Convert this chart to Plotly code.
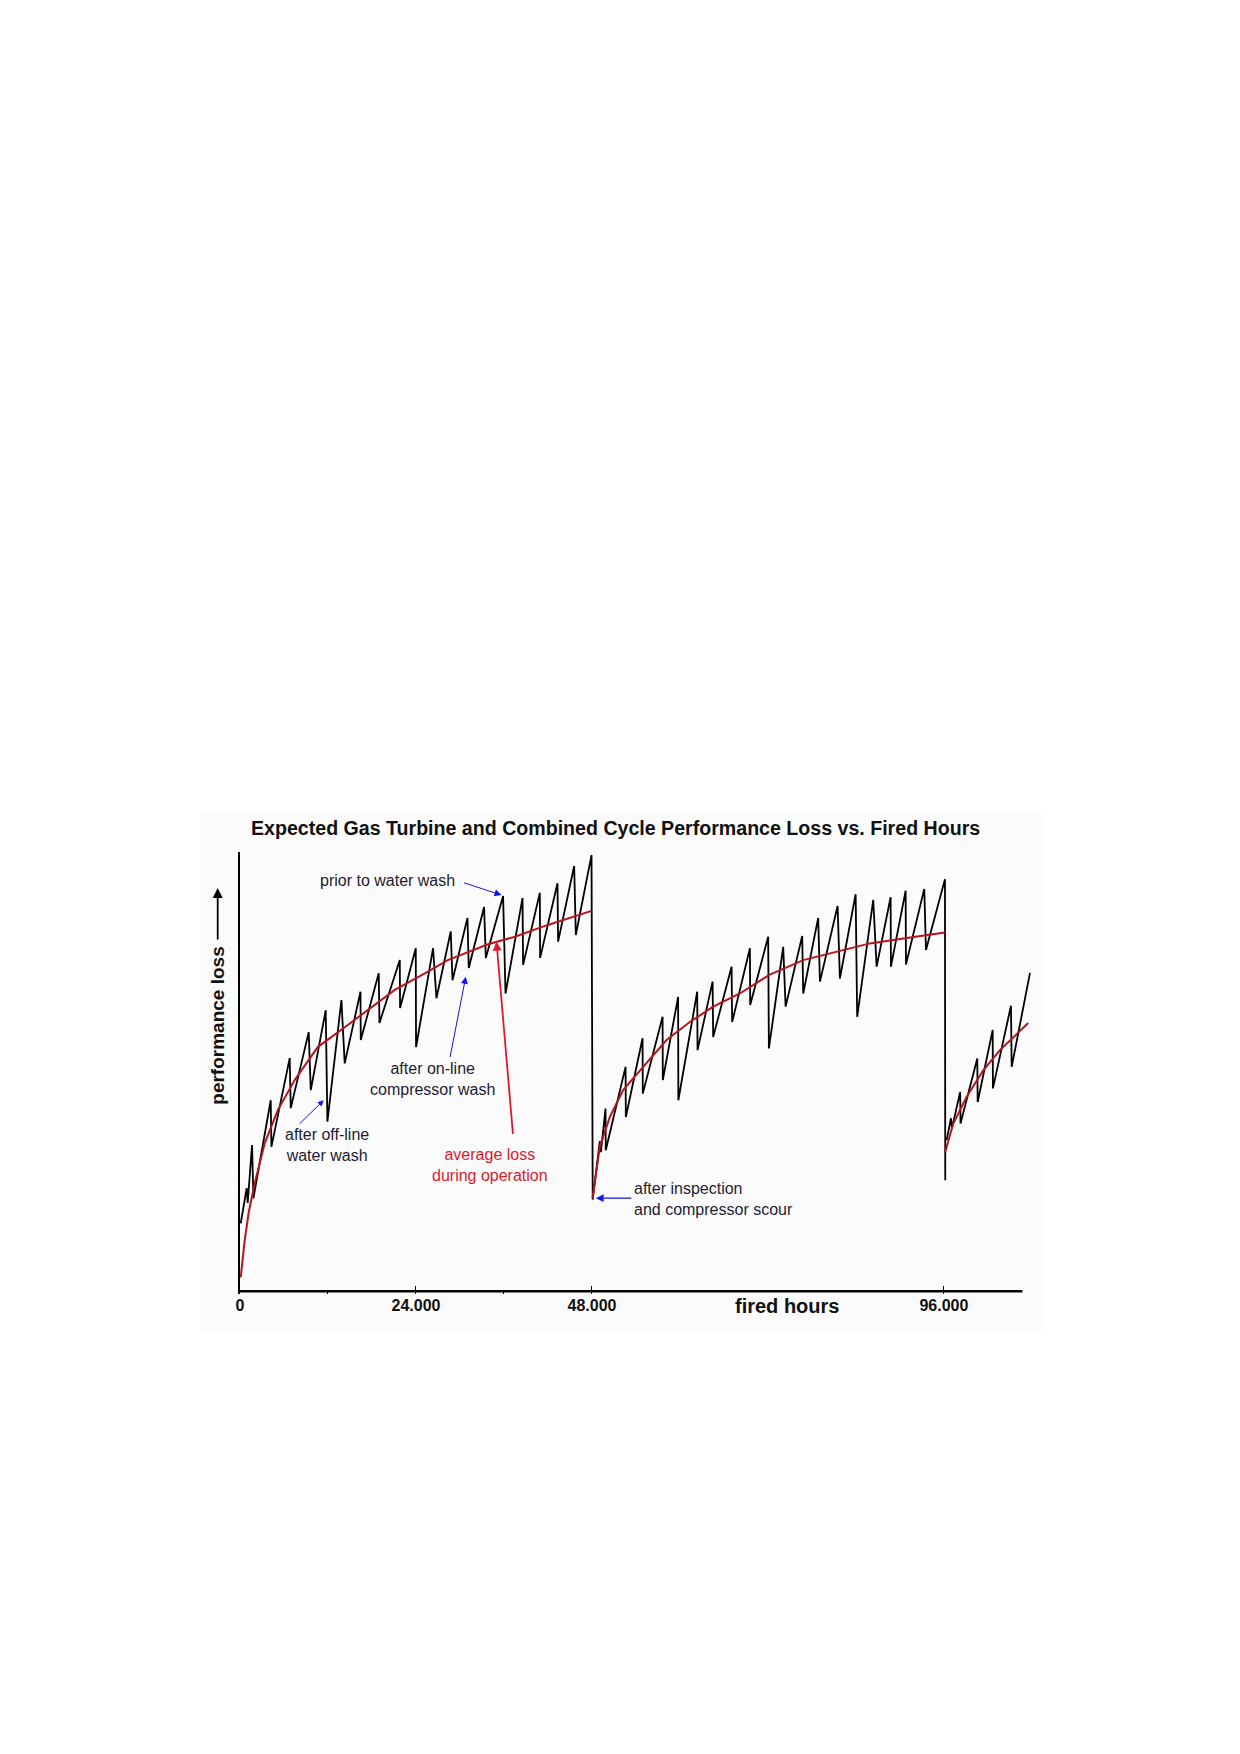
import plotly.graph_objects as go

# fired hours in thousands, performance loss in relative units (0-100)
saw_hours_1 = [0.10, 0.91, 1.05, 1.64, 1.83, 4.19, 4.28, 6.78, 6.92, 9.37, 9.65, 11.69, 11.92,
               13.83, 14.28, 16.43, 16.47, 18.92, 19.02, 21.79, 21.83, 23.97, 24.01, 26.33,
               26.79, 28.74, 28.98, 31.02, 31.20, 33.29, 33.52, 35.88, 36.21, 38.53, 38.61,
               40.89, 40.93, 43.30, 43.38, 45.57, 45.80, 47.94]
saw_loss_1 = [15.5, 23.5, 20.1, 33.3, 21.2, 43.5, 32.9, 53.1, 41.7, 59.0, 45.8, 64.0, 38.6,
              66.3, 51.9, 68.2, 57.2, 72.4, 61.1, 75.4, 64.5, 78.1, 55.6, 78.1,
              66.7, 81.9, 70.8, 85.0, 73.6, 87.5, 75.9, 90.0, 67.8, 89.5, 74.3,
              90.7, 75.9, 92.9, 79.6, 96.8, 81.1, 99.3]

saw_hours_2 = [48.10, 49.07, 49.21, 49.85, 49.88, 52.58, 52.62, 54.90, 54.93, 57.63, 57.66,
               59.75, 59.78, 62.35, 62.40, 64.45, 64.53, 67.04, 67.12, 69.54, 69.58, 72.03,
               72.13, 74.08, 74.41, 76.67, 76.81, 78.85, 79.09, 81.50, 81.81, 83.96, 84.17,
               86.36, 86.82, 88.73, 88.77, 90.78, 90.82, 93.32, 93.55, 96.14, 96.18]
saw_loss_2 = [20.9, 34.2, 31.7, 41.6, 32.1, 51.1, 39.7, 57.6, 45.0, 62.5, 48.1,
              67.0, 43.5, 68.2, 54.9, 70.5, 57.9, 73.9, 61.3, 78.1, 65.2, 80.7,
              55.3, 78.4, 64.8, 80.9, 67.8, 85.0, 70.5, 87.7, 71.2, 90.4, 62.5,
              89.1, 73.9, 89.7, 73.9, 91.2, 74.4, 91.6, 77.7, 93.8, 25.3]

saw_hours_3 = [96.37, 96.96, 97.09, 98.22, 98.26, 100.55, 100.60, 102.65, 102.68, 105.14, 105.24, 107.74]
saw_loss_3 = [34.4, 39.4, 37.1, 45.4, 38.2, 53.0, 43.1, 59.5, 46.2, 65.0, 51.1, 72.5]

avg_hours_1 = [0.10, 0.64, 1.19, 2.01, 3.37, 5.14, 7.46, 10.60, 14.28, 17.42, 21.11, 25.21,
               28.34, 33.83, 37.48, 41.98, 47.94]
avg_loss_1 = [3.2, 11.6, 18.0, 24.6, 33.7, 41.2, 48.1, 55.6, 60.1, 64.0, 68.6, 72.4,
              75.4, 79.0, 80.7, 83.4, 86.6]

avg_hours_2 = [48.08, 49.07, 50.44, 52.25, 54.98, 58.17, 61.35, 64.53, 68.17, 72.26, 76.81,
               81.36, 85.91, 90.45, 96.14]
avg_loss_2 = [21.2, 32.9, 39.7, 45.8, 51.1, 57.2, 61.3, 64.8, 67.8, 72.1, 75.4,
              77.3, 79.2, 80.3, 81.7]

avg_hours_3 = [96.18, 97.27, 99.10, 101.36, 103.64, 105.92, 107.50]
avg_loss_3 = [31.7, 38.2, 44.3, 50.3, 54.9, 58.7, 61.1]

tick_hours = [0, 24, 48, 96]
tick_labels = ["0", "24.000", "48.000", "96.000"]
minor_hours = [12, 36]
axis_end = 106.7

X_RANGE = [0, 108.42]
Y_RANGE = [-0.6, 100]

saw_x = saw_hours_1 + saw_hours_2 + [None] + saw_hours_3
saw_y = saw_loss_1 + saw_loss_2 + [None] + saw_loss_3
avg_x = avg_hours_1 + [None] + avg_hours_2 + [None] + avg_hours_3
avg_y = avg_loss_1 + [None] + avg_loss_2 + [None] + avg_loss_3

FONT = "Liberation Sans, Arial, sans-serif"
TEXT_DARK = "#1c1c34"
BLUE = "#1414e6"
RED = "#e0182c"

fig = go.Figure()
fig.add_trace(go.Scatter(x=saw_x, y=saw_y, mode="lines",
                         line=dict(color="black", width=1.8), hoverinfo="skip"))
fig.add_trace(go.Scatter(x=avg_x, y=avg_y, mode="lines",
                         line=dict(color="#b8141e", width=2), hoverinfo="skip"))

annotations = []


def to_paper(x, y):
    return ((x - X_RANGE[0]) / (X_RANGE[1] - X_RANGE[0]),
            (y - Y_RANGE[0]) / (Y_RANGE[1] - Y_RANGE[0]))


def label(x, y, text, color=TEXT_DARK, size=16, bold=False, xanchor="center", angle=0, paper=False):
    if bold:
        text = "<b>" + text + "</b>"
    ref = "y"
    xref = "x"
    if paper:
        x, y = to_paper(x, y)
        xref = ref = "paper"
    annotations.append(dict(x=x, y=y, xref=xref, yref=ref, text=text, showarrow=False,
                            xanchor=xanchor, yanchor="middle",
                            align="left" if xanchor == "left" else "center",
                            textangle=angle, font=dict(family=FONT, size=size, color=color)))


def arrow(x0, y0, x1, y1, color=BLUE, width=1, size=1.2):
    annotations.append(dict(x=x1, y=y1, ax=x0, ay=y0, xref="x", yref="y", axref="x", ayref="y",
                            text="", showarrow=True, arrowhead=2, arrowsize=size,
                            arrowwidth=width, arrowcolor=color, standoff=0))


label(51.2, 105.5, "Expected Gas Turbine and Combined Cycle Performance Loss vs. Fired Hours",
      color="#111111", size=19.6, bold=True, paper=True)
label(74.65, -3.4, "fired hours", color="#111111", size=20, bold=True, paper=True)
label(-3.04, 60.4, "performance loss", color="#111111", size=19, bold=True, angle=-90, paper=True)

# arrow next to the y label (tip in paper coords, tail 53px below)
tip_x, tip_y = to_paper(-3.04, 91.8)
annotations.append(dict(x=tip_x, y=tip_y, xref="paper", yref="paper", ax=0, ay=53,
                        text="", showarrow=True, arrowhead=2, arrowsize=1.1,
                        arrowwidth=1.8, arrowcolor="black", standoff=0))

label(20.1, 93.6, "prior to water wash")
arrow(30.34, 93.1, 35.66, 90.2, size=1.4)
label(26.3, 48.4, "after on-line<br>compressor wash")
arrow(28.61, 53.0, 30.79, 71.6, size=1.4)
label(11.83, 33.3, "after off-line<br>water wash")
arrow(7.91, 37.8, 11.42, 43.5)
label(34.16, 28.8, "average loss<br>during operation", color=RED)
arrow(37.24, 35.5, 34.98, 79.6, color=RED, width=1.8, size=1.0)
label(53.4, 21.0, "after inspection<br>and compressor scour", xanchor="left")
arrow(53.57, 21.2, 48.53, 21.2, width=1.2, size=1.3)

# page body adds an 8px offset, so the figure is 8px smaller than the window
fig.update_layout(
    width=1232, height=1746,
    margin=dict(l=232.3, r=205, t=844, b=460.4, autoexpand=False),
    paper_bgcolor="white", plot_bgcolor="rgba(0,0,0,0)",
    showlegend=False,
    annotations=annotations,
    shapes=[
        dict(type="rect", xref="paper", yref="paper", x0=-0.05, x1=1.01, y0=-0.085, y1=1.09,
             fillcolor="#fbfbfb", line=dict(width=0), layer="below"),
        dict(type="line", xref="x", yref="y", x0=0, x1=axis_end, y0=0, y1=0,
             line=dict(color="black", width=2.5)),
    ],
    xaxis=dict(range=X_RANGE, showgrid=False, zeroline=False, showline=False,
               tickmode="array", tickvals=tick_hours,
               ticktext=["<b>" + t + "</b>" for t in tick_labels],
               ticks="inside", ticklen=8, tickwidth=1.2, tickcolor="black",
               tickfont=dict(family=FONT, size=16, color="#111111"),
               minor=dict(tickvals=minor_hours, ticks="inside", ticklen=4,
                          tickwidth=1, tickcolor="black")),
    yaxis=dict(range=Y_RANGE, showgrid=False, zeroline=False, showline=True,
               linecolor="black", linewidth=1.5, showticklabels=False, ticks=""),
)

fig.write_html("out.html")
